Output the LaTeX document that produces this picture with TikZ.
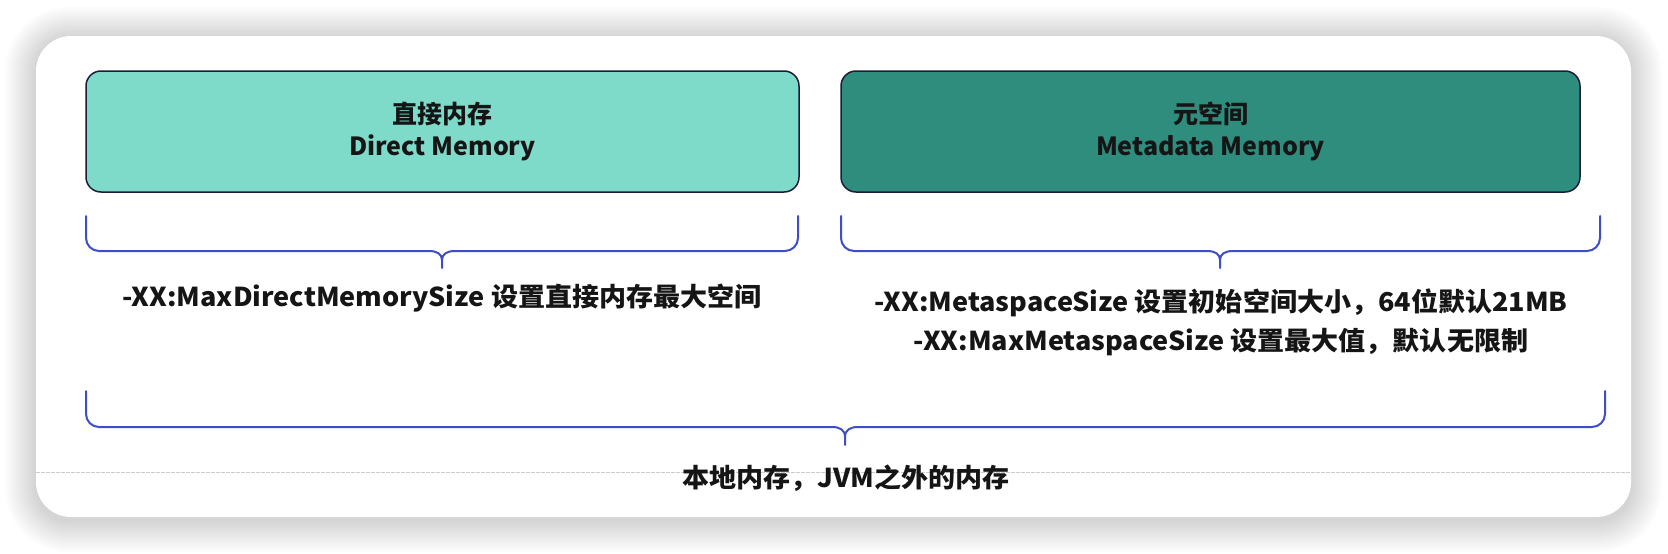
\documentclass[tikz,border=0pt]{standalone}
\usepackage{fontspec}
\setmainfont{Noto Sans CJK SC}
\newfontfamily\notefont{Noto Sans CJK SC}[FakeStretch=1.04]
\definecolor{lightteal}{HTML}{7EDBC9}
\definecolor{darkteal}{HTML}{2E8D7D}
\definecolor{boxline}{HTML}{1C1C3A}
\definecolor{bracecol}{HTML}{3E4EC6}
\definecolor{txt}{HTML}{151515}
\tikzset{
  membox/.style={draw=boxline, line width=1.5pt, rounded corners=15pt,
    minimum width=713pt, minimum height=121pt, inner sep=0pt, align=center,
    text=txt, font=\fontsize{25}{32}\selectfont\bfseries},
  bracepath/.style={draw=bracecol, line width=2pt, line cap=round, line join=round},
  note/.style={text=txt, align=center, inner sep=0pt, font=\notefont\fontsize{26}{39}\selectfont\bfseries},
}
\begin{document}
\begin{tikzpicture}[x=1pt,y=-1pt]
\useasboundingbox (0,0) rectangle (1668,554);
\fill[white] (0,0) rectangle (1668,554);
% soft shadow of the card
\foreach \i in {1,...,14}{
  \fill[black, opacity=0.010, rounded corners={35pt+\i*2pt}]
    (36-\i*2.2,38-\i*2.2) rectangle (1631+\i*2.2,521+\i*2.2);
}
% card
\fill[white, rounded corners=35pt] (36,36) rectangle (1631,517);
% thin gray line
\draw[gray!40, line width=0.6pt, dash pattern=on 4pt off 1pt] (36,472) -- (1631,472);
% boxes
\node[membox, fill=lightteal] (direct) at (442.5,131.5) {直接内存\\Direct Memory};
\node[membox, fill=darkteal, minimum width=739pt] (meta) at (1210.5,131.5) {元空间\\Metadata Memory};
% left brace
\draw[bracepath, rounded corners=13pt] (86,216) -- (86,251) -- (429,251);
\draw[bracepath] (429,251) .. controls (437,251) and (442,254) .. (442,260) -- (442,268);
\draw[bracepath] (442,260) .. controls (442,254) and (447,251) .. (455,251);
\draw[bracepath, rounded corners=13pt] (455,251) -- (798,251) -- (798,216);
\coordinate (ltip) at (442,268);
% right brace
\draw[bracepath, rounded corners=13pt] (841,216) -- (841,251) -- (1207,251);
\draw[bracepath] (1207,251) .. controls (1215,251) and (1220,254) .. (1220,260) -- (1220,268);
\draw[bracepath] (1220,260) .. controls (1220,254) and (1225,251) .. (1233,251);
\draw[bracepath, rounded corners=13pt] (1233,251) -- (1600,251) -- (1600,216);
\coordinate (rtip) at (1220,268);
% big brace
\draw[bracepath, rounded corners=13pt] (86,391) -- (86,427) -- (832,427);
\draw[bracepath] (832,427) .. controls (840,427) and (845,430) .. (845,437) -- (845,445);
\draw[bracepath] (845,437) .. controls (845,430) and (850,427) .. (858,427);
\draw[bracepath, rounded corners=13pt] (858,427) -- (1605,427) -- (1605,391);
\coordinate (btip) at (845,445);
% notes
\node[note] (dnote) at (442,298) {-XX:MaxDirectMemorySize 设置直接内存最大空间};
\node[note] (mnote) at (1221,322.5) {-XX:MetaspaceSize 设置初始空间大小，64位默认21MB\\-XX:MaxMetaspaceSize 设置最大值，默认无限制};
\node[note] (native) at (846,478) {本地内存，JVM之外的内存};
\end{tikzpicture}
\end{document}
